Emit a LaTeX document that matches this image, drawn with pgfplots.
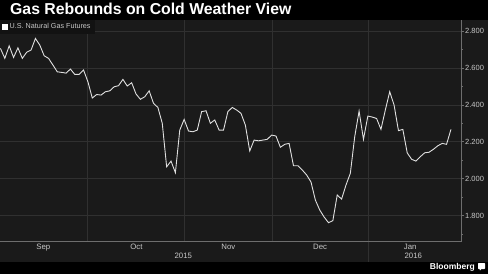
\documentclass[border=0pt]{standalone}
\usepackage{pgfplots}
\pgfplotsset{compat=1.18}
\usepackage{pgfplotstable}
\usepackage{fontspec}
\setmainfont{Liberation Sans}
\definecolor{bg}{HTML}{1A1A1A}
\definecolor{gridc}{HTML}{303030}
\definecolor{axisc}{HTML}{6E6E6E}
\definecolor{txt}{HTML}{C8C8C8}
\definecolor{linec}{HTML}{E0E0E0}
\definecolor{legbg}{HTML}{121212}
\pgfplotstableread{
d v
0 2.706
1 2.652
2 2.720
3 2.657
4 2.709
5 2.652
6 2.685
7 2.697
8 2.760
9 2.724
10 2.666
11 2.652
12 2.616
13 2.579
14 2.576
15 2.572
16 2.594
17 2.565
18 2.565
19 2.589
20 2.525
21 2.437
22 2.456
23 2.453
24 2.471
25 2.476
26 2.498
27 2.504
28 2.538
29 2.502
30 2.520
31 2.459
32 2.430
33 2.444
34 2.476
35 2.408
36 2.386
37 2.300
38 2.064
39 2.095
40 2.032
41 2.263
42 2.321
43 2.258
44 2.254
45 2.263
46 2.363
47 2.368
48 2.300
49 2.318
50 2.263
51 2.263
52 2.363
53 2.386
54 2.372
55 2.354
56 2.290
57 2.150
58 2.209
59 2.205
60 2.209
61 2.213
62 2.236
63 2.231
64 2.170
65 2.186
66 2.191
67 2.070
68 2.070
69 2.047
70 2.020
71 1.982
72 1.884
73 1.830
74 1.792
75 1.761
76 1.772
77 1.911
78 1.889
79 1.965
80 2.029
81 2.227
82 2.366
83 2.213
84 2.339
85 2.334
86 2.326
87 2.267
88 2.372
89 2.471
90 2.399
91 2.260
92 2.267
93 2.140
94 2.105
95 2.095
96 2.119
97 2.140
98 2.143
99 2.159
100 2.178
101 2.191
102 2.186
103 2.267
}\gas
\begin{document}
\begin{tikzpicture}
\fill[black] (0,0) rectangle (488pt,274pt);
\fill[bg] (0,12pt) rectangle (488pt,254pt);
\node[anchor=base west, inner sep=0pt, text=white, font=\bfseries\fontsize{15.8}{16}\selectfont] at (10pt,259pt) {Gas Rebounds on Cold Weather View};
\node[anchor=base east, inner sep=0pt, text=white, font=\bfseries\fontsize{8.5}{9}\selectfont] at (475pt,4.5pt) {Bloomberg};
\fill[white, rounded corners=0.6pt] (478pt,5pt) rectangle (485pt,11pt);
\fill[white] (479.5pt,5.2pt) -- (480pt,3.5pt) -- (481.5pt,5.2pt) -- cycle;
\begin{axis}[
  at={(0pt,32.3pt)}, anchor=south west,
  scale only axis, width=461pt, height=221.7pt,
  xmin=-0.1, xmax=105.3, ymin=1.658, ymax=2.86,
  axis x line*=bottom, axis y line*=right,
  axis line style={axisc, line width=0.6pt},
  ytick={1.8,2.0,2.2,2.4,2.6,2.8},
  yticklabels={1.800,2.000,2.200,2.400,2.600,2.800},
  minor ytick={1.7,1.9,2.1,2.3,2.5,2.7},
  ymajorgrids, xmajorgrids,
  major grid style={gridc, line width=0.6pt},
  xtick={19.9,42.05,62.15,84.1}, xticklabels={},
  xtick style={draw=none},
  ytick style={axisc, line width=0.6pt},
  tick align=outside, major tick length=3pt, minor tick length=2pt,
  yticklabel style={text=txt, font=\fontsize{7.5}{8}\selectfont, anchor=west, inner sep=0pt, xshift=1pt},
  /pgf/number format/assume math mode=true,
  extra x ticks={9.8,31.1,52.1,73.1,93.7},
  extra x tick labels={Sep,Oct,Nov,Dec,Jan},
  extra x tick style={grid=none, major tick length=0pt, xticklabel style={text=txt, font=\fontsize{7.8}{8}\selectfont, anchor=north, inner sep=0pt, yshift=-2.3pt}},
  legend style={at={(0,1)}, anchor=north west, draw=none, fill=legbg, text=txt, font=\fontsize{7.2}{7.5}\selectfont, inner xsep=2pt, inner ysep=1.5pt, row sep=0pt},
  legend cell align=left,
  legend image code/.code={\fill[white] (0pt,-2.3pt) rectangle (4.6pt,2.3pt);},
  clip=false,
]
\addplot[linec, line width=0.9pt] table[x=d, y=v] {\gas};
\addlegendentry{U.S. Natural Gas Futures}
\draw[gridc, line width=0.6pt] (axis cs:84.1,1.658) -- ++(0pt,-20.5pt);
\node[text=txt, font=\fontsize{7.8}{8}\selectfont, anchor=north, inner sep=0pt] at ([yshift=-11.5pt]axis cs:41.8,1.658) {2015};
\node[text=txt, font=\fontsize{7.8}{8}\selectfont, anchor=north, inner sep=0pt] at ([yshift=-11.5pt]axis cs:94.4,1.658) {2016};
\end{axis}
\pgfresetboundingbox
\useasboundingbox (0,0) rectangle (488pt,274pt);
\end{tikzpicture}
\end{document}
